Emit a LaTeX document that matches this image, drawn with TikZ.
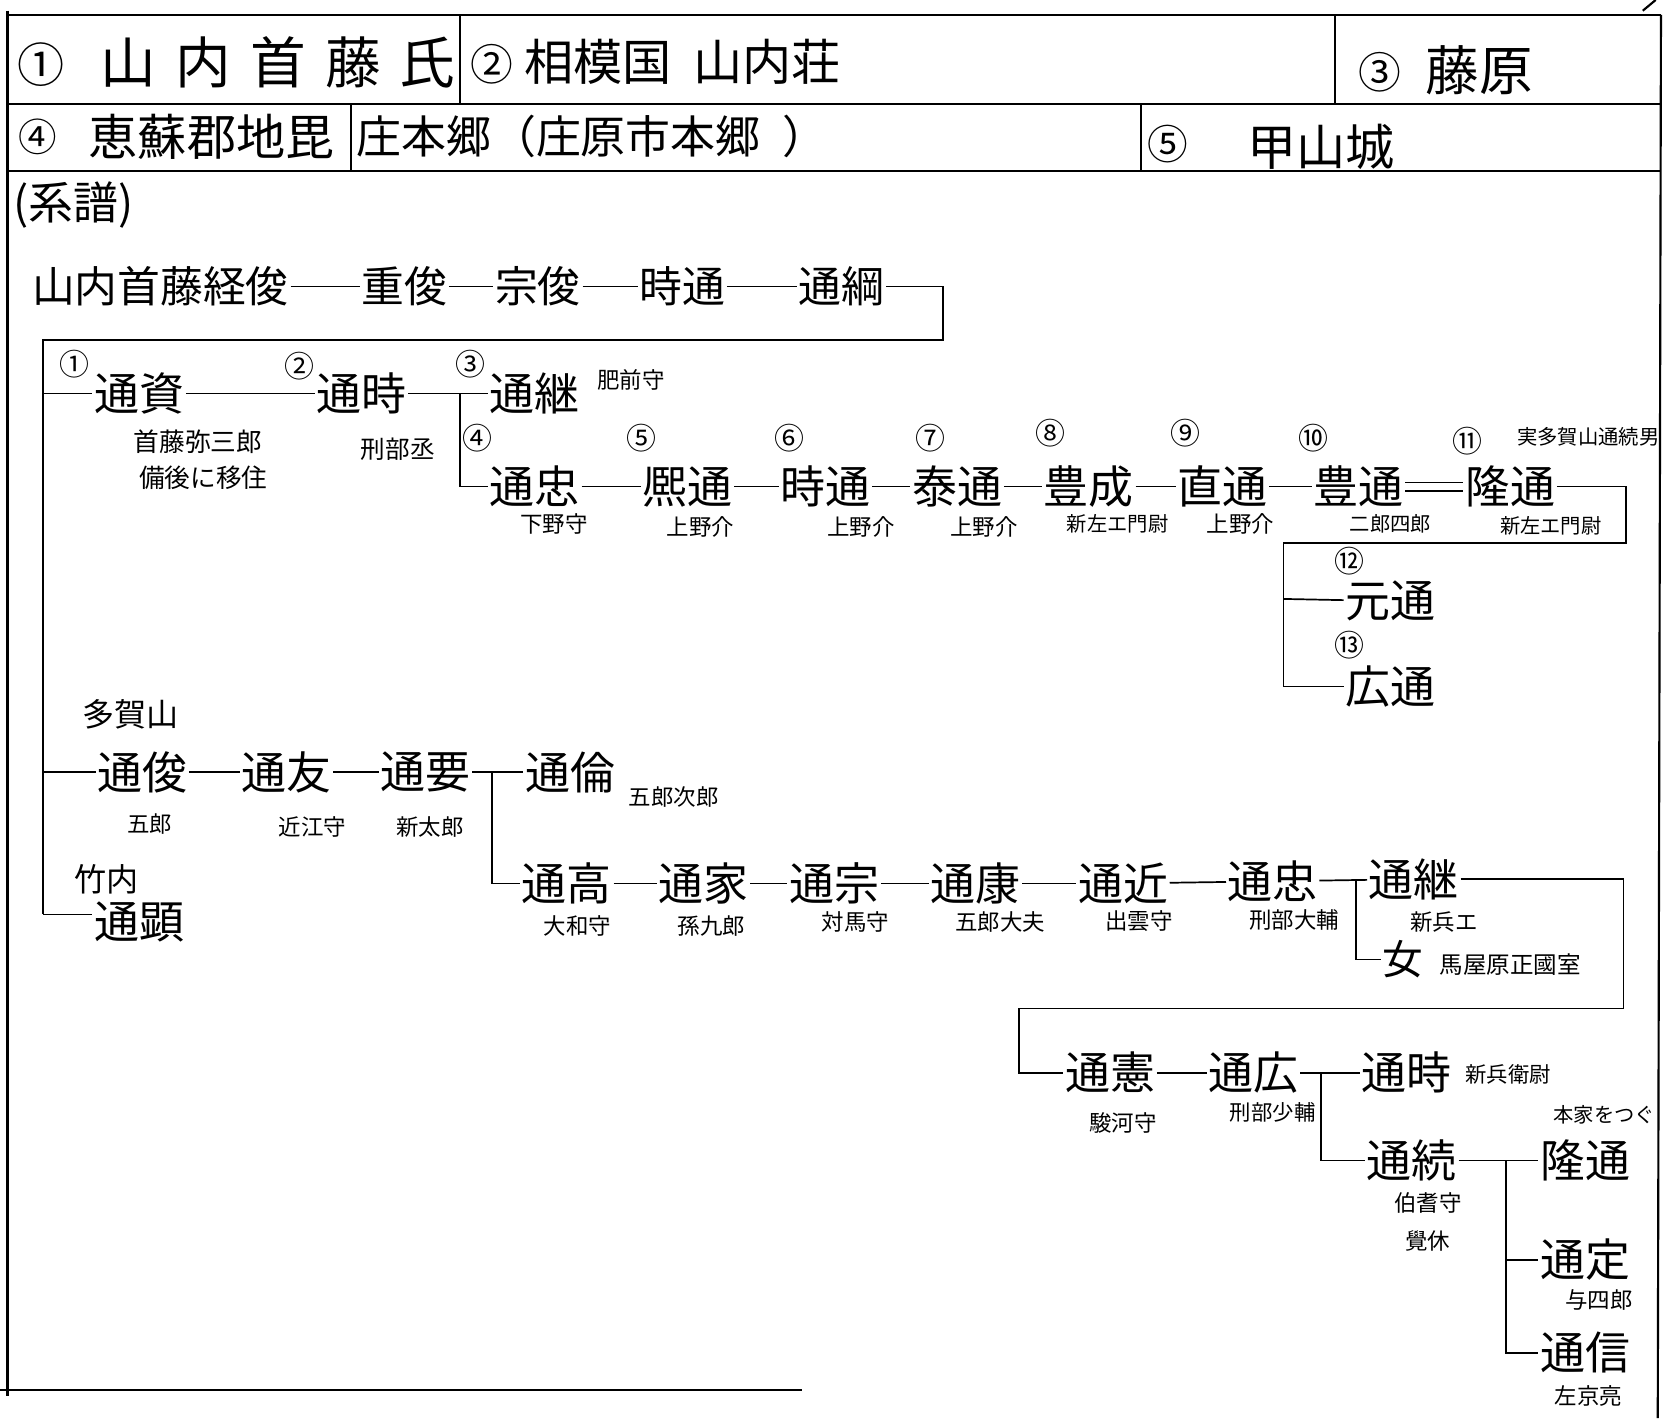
\documentclass[tikz,border=0pt]{standalone}
\usepackage{fontspec}
\newfontfamily\jp{Noto Sans CJK JP}
\begin{document}
\begin{tikzpicture}[x=1pt,y=-1pt,
  nm/.style={font=\jp\fontsize{42}{42}\selectfont, inner sep=1.5pt},
  tp/.style={font=\jp\fontsize{40}{40}\selectfont, inner sep=1.5pt},
  sm/.style={font=\jp\fontsize{21}{21}\selectfont, inner sep=0pt},
  pl/.style={font=\jp\fontsize{30}{30}\selectfont, inner sep=0pt},
  cn/.style={font=\jp\fontsize{28}{28}\selectfont, inner sep=0pt},
  ln/.style={line width=1.6pt},
  bd/.style={line width=2pt}]
\useasboundingbox (0,0) rectangle (1568,1326);
% ---- frame and header ----
\draw[bd] (7,14) -- (1553,14);
\draw[bd] (7,97) -- (1553,97);
\draw[bd] (7,160) -- (1553,160);
\draw[bd] (7,10) -- (7,1305);
\draw[bd] (1553,14) -- (1550,1326);
\draw[bd] (0,1300) -- (750,1300);
\draw[bd] (430,14) -- (430,97);
\draw[bd] (1248,14) -- (1248,97);
\draw[bd] (328,97) -- (328,160);
\draw[bd] (1067,97) -- (1067,160);
\draw[bd] (1536,10) -- (1548,0);
\node[font=\jp\fontsize{44}{44}\selectfont] (h1n) at (38,60) {①};
\node[font=\jp\fontsize{52}{52}\selectfont] (h1) at (260,58) {山\hspace{18pt}内\hspace{18pt}首\hspace{18pt}藤\hspace{18pt}氏};
\node[font=\jp\fontsize{40}{40}\selectfont] (h2n) at (460,60) {②};
\node[font=\jp\fontsize{46}{46}\selectfont] (h2) at (638,58) {相模国\hspace{20pt}山内荘};
\node[font=\jp\fontsize{40}{40}\selectfont] (h3n) at (1290,68) {③};
\node[font=\jp\fontsize{50}{50}\selectfont] (h3) at (1383,66) {藤原};
\node[font=\jp\fontsize{36}{36}\selectfont] (h4n) at (35,128) {④};
\node[font=\jp\fontsize{46}{46}\selectfont] (h4) at (198,128) {恵蘇郡地毘};
\node[font=\jp\fontsize{42}{42}\selectfont, anchor=west, inner sep=0pt] (h4b) at (333,128) {庄本郷（庄原市本郷\hspace{20pt}）};
\node[font=\jp\fontsize{38}{38}\selectfont] (h5n) at (1092,135) {⑤};
\node[font=\jp\fontsize{46}{46}\selectfont] (h5) at (1235,137) {甲山城};
\node[font=\jp\fontsize{42}{42}\selectfont, anchor=west, inner sep=0pt] (kf) at (12,192) {(系譜)};
% ---- top line ----
\node[tp] (tsunetoshi) at (150,268) {山内首藤経俊};
\node[tp] (shigetoshi) at (378,268) {重俊};
\node[tp] (munetoshi) at (503,268) {宗俊};
\node[tp] (tokimichi0) at (638,268) {時通};
\node[tp] (michitsuna) at (787,268) {通綱};
\draw[ln] (tsunetoshi) -- (shigetoshi);
\draw[ln] (shigetoshi) -- (munetoshi);
\draw[ln] (munetoshi) -- (tokimichi0);
\draw[ln] (tokimichi0) -- (michitsuna);
\coordinate (trunk) at (40,318);
\coordinate (trunkend) at (40,855);
\draw[ln] (michitsuna) -- (882,268) -- (882,318) -- (trunk) -- (trunkend);
% ---- main branch ----
\node[cn] (c1) at (70,340) {①};
\node[nm] (michisuke) at (130,368) {通資};
\node[sm, font=\jp\fontsize{24}{24}\selectfont] (l1a) at (185,413) {首藤弥三郎};
\node[sm, font=\jp\fontsize{24}{24}\selectfont] (l1b) at (190,447) {備後に移住};
\draw[ln] (40,368) -- (michisuke);
\node[cn] (c2) at (280,342) {②};
\node[nm] (tokimichi1) at (338,368) {通時};
\node[sm, font=\jp\fontsize{23}{23}\selectfont] (l2) at (372,420) {刑部丞};
\draw[ln] (michisuke) -- (tokimichi1);
\node[cn] (c3) at (440,340) {③};
\node[nm] (michitsugu1) at (500,368) {通継};
\node[sm] (l3) at (590,355) {肥前守};
\draw[ln] (tokimichi1) -- (michitsugu1);
\coordinate (br1) at (430,368);
\node[cn] (c4) at (446,410) {④};
\node[nm] (michitada1) at (500,455) {通忠};
\node[sm] (l4) at (518,490) {下野守};
\draw[ln] (br1) |- (michitada1);
\node[cn] (c5) at (600,410) {⑤};
\node[nm] (hiromichi) at (643,455) {熈通};
\node[sm] (l5) at (655,493) {上野介};
\draw[ln] (michitada1) -- (hiromichi);
\node[cn] (c6) at (738,410) {⑥};
\node[nm] (tokimichi2) at (772,455) {時通};
\node[sm] (l6) at (805,493) {上野介};
\draw[ln] (hiromichi) -- (tokimichi2);
\node[cn] (c7) at (870,410) {⑦};
\node[nm] (yasumichi) at (895,455) {泰通};
\node[sm] (l7) at (920,493) {上野介};
\draw[ln] (tokimichi2) -- (yasumichi);
\node[cn] (c8) at (982,405) {⑧};
\node[nm] (toyonari) at (1018,455) {豊成};
\node[sm, font=\jp\fontsize{19}{19}\selectfont] (l8) at (1045,490) {新左エ門尉};
\draw[ln] (yasumichi) -- (toyonari);
\node[cn] (c9) at (1108,405) {⑨};
\node[nm] (naomichi) at (1143,455) {直通};
\node[sm] (l9) at (1160,490) {上野介};
\draw[ln] (toyonari) -- (naomichi);
\node[cn] (c10) at (1228,410) {⑩};
\node[nm] (toyomichi) at (1270,455) {豊通};
\node[sm, font=\jp\fontsize{19}{19}\selectfont] (l10) at (1300,490) {二郎四郎};
\draw[ln] (naomichi) -- (toyomichi);
\node[cn] (c11) at (1372,412) {⑪};
\node[nm] (takamichi1) at (1412,455) {隆通};
\node[sm, font=\jp\fontsize{19}{19}\selectfont] (l11) at (1450,492) {新左エ門尉};
\node[sm, font=\jp\fontsize{19}{19}\selectfont] (l11b) at (1485,408) {実多賀山通続男};
\draw[ln, double, double distance=6pt] (toyomichi) -- (takamichi1);
\node[cn] (c12) at (1262,525) {⑫};
\node[nm] (motomichi) at (1300,562) {元通};
\node[cn] (c13) at (1262,603) {⑬};
\node[nm] (hiromichi2) at (1300,642) {広通};
\coordinate (br2) at (1200,560);
\draw[ln] (takamichi1) -- (1520,455) -- (1520,508) -- (1200,508) |- (hiromichi2);
\draw[ln] (br2) -- (motomichi);
% ---- Tagayama branch ----
\node[pl] (tagayama) at (122,668) {多賀山};
\node[nm] (michitoshi) at (133,722) {通俊};
\node[sm] (l20) at (140,770) {五郎};
\draw[ln] (40,722) -- (michitoshi);
\node[nm] (michitomo) at (268,722) {通友};
\node[sm] (l21) at (292,773) {近江守};
\draw[ln] (michitoshi) -- (michitomo);
\node[nm] (michiyasu) at (398,722) {通要};
\node[sm] (l22) at (402,773) {新太郎};
\draw[ln] (michitomo) -- (michiyasu);
\node[nm] (michitomo2) at (533,722) {通倫};
\node[sm] (l23) at (630,745) {五郎次郎};
\draw[ln] (michiyasu) -- (michitomo2);
\coordinate (br3) at (460,722);
\node[nm] (michitaka) at (530,826) {通高};
\node[sm] (l24) at (540,866) {大和守};
\draw[ln] (br3) |- (michitaka);
\node[nm] (michiie) at (658,826) {通家};
\node[sm] (l25) at (665,866) {孫九郎};
\draw[ln] (michitaka) -- (michiie);
\node[nm] (michimune) at (780,826) {通宗};
\node[sm] (l26) at (800,862) {対馬守};
\draw[ln] (michiie) -- (michimune);
\node[nm] (michiyasu2) at (912,826) {通康};
\node[sm] (l27) at (935,862) {五郎大夫};
\draw[ln] (michimune) -- (michiyasu2);
\node[nm] (michichika) at (1050,826) {通近};
\node[sm] (l28) at (1065,861) {出雲守};
\draw[ln] (michiyasu2) -- (michichika);
\node[nm] (michitada2) at (1190,824) {通忠};
\node[sm] (l29) at (1210,860) {刑部大輔};
\draw[ln] (michichika) -- (michitada2);
\node[nm] (michitsugu2) at (1322,822) {通継};
\node[sm] (l30) at (1350,862) {新兵エ};
\draw[ln] (michitada2) -- (michitsugu2);
\coordinate (br4) at (1268,824);
\node[font=\jp\fontsize{38}{38}\selectfont, inner sep=1.5pt] (onna) at (1312,897) {女};
\node[sm, font=\jp\fontsize{22}{22}\selectfont] (l31) at (1412,902) {馬屋原正國室};
\draw[ln] (br4) |- (onna);
% ---- Takeuchi ----
\node[pl] (takeuchi) at (100,822) {竹内};
\node[nm] (michiaki) at (130,862) {通顕};
\draw[ln] (trunkend) -- (michiaki.west |- trunkend);
% ---- continuation ----
\node[nm] (michinori) at (1038,1003) {通憲};
\node[sm] (l40) at (1050,1050) {駿河守};
\draw[ln] (michitsugu2) -- (1518,822) -- (1518,943) -- (953,943) |- (michinori);
\node[nm] (michihiro) at (1172,1003) {通広};
\node[sm, font=\jp\fontsize{20}{20}\selectfont] (l41) at (1190,1040) {刑部少輔};
\draw[ln] (michinori) -- (michihiro);
\node[nm] (tokimichi3) at (1315,1003) {通時};
\node[sm, font=\jp\fontsize{20}{20}\selectfont] (l42) at (1410,1005) {新兵衛尉};
\draw[ln] (michihiro) -- (tokimichi3);
\coordinate (br5) at (1235,1003);
\node[nm] (michitsugu3) at (1320,1085) {通続};
\node[sm] (l43a) at (1335,1125) {伯耆守};
\node[sm] (l43b) at (1335,1160) {覺休};
\draw[ln] (br5) |- (michitsugu3);
\node[nm] (takamichi2) at (1482,1085) {隆通};
\node[sm, font=\jp\fontsize{19}{19}\selectfont] (l44) at (1500,1042) {本家をつぐ};
\draw[ln] (michitsugu3) -- (takamichi2);
\coordinate (br6) at (1408,1085);
\node[nm] (michisada) at (1482,1178) {通定};
\node[sm] (l45) at (1495,1215) {与四郎};
\node[nm] (michinobu) at (1482,1265) {通信};
\node[sm] (l46) at (1485,1305) {左京亮};
\draw[ln] (br6) |- (michinobu);
\draw[ln] (br6 |- michisada) -- (michisada);
\end{tikzpicture}
\end{document}
